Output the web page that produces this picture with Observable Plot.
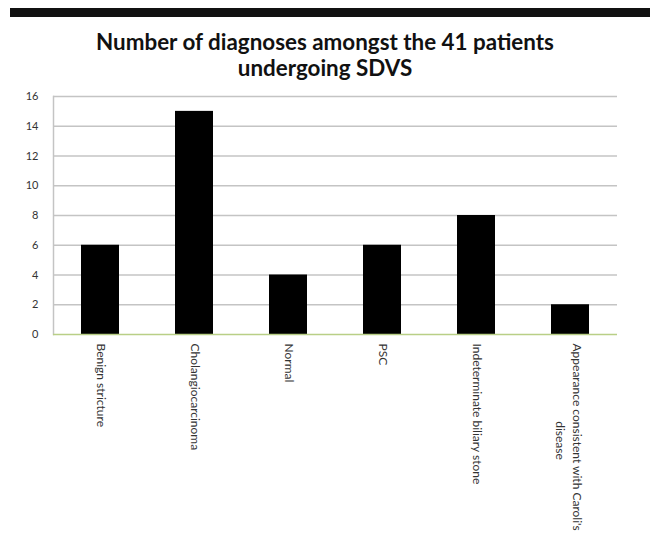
<!DOCTYPE html>
<html>
<head>
<meta charset="utf-8">
<script src="https://cdn.jsdelivr.net/npm/d3@7"></script>
<script src="https://cdn.jsdelivr.net/npm/@observablehq/plot@0.6"></script>
<style>
  html, body { margin: 0; padding: 0; background: #fff; }
  body { width: 650px; height: 541px; position: relative; overflow: hidden; font-family: Lato, "Open Sans", sans-serif; }
  #topbar { position: absolute; left: 10px; right: 0; top: 8px; height: 9px; background: #111; }
  #title { position: absolute; left: 0; width: 650px; top: 29px; text-align: center; font-weight: bold; font-size: 22.4px; line-height: 25.5px; color: #111; }
  #chart { position: absolute; left: 0; top: 86px; }
</style>
</head>
<body>
<div id="topbar"></div>
<div id="title">Number of diagnoses amongst the 41 patients<br>undergoing SDVS</div>
<div id="chart"></div>
<script>
const categories = ["Benign stricture", "Cholangiocarcinoma", "Normal", "PSC", "Indeterminate biliary stone", "Appearance consistent with Caroli's disease"];
const counts = [6, 15, 4, 6, 8, 2];
const labelLines = [["Benign stricture"], ["Cholangiocarcinoma"], ["Normal"], ["PSC"], ["Indeterminate biliary stone"], ["Appearance consistent with Caroli's", "disease"]];
const yTicks = [0, 2, 4, 6, 8, 10, 12, 14, 16];

const data = categories.map((c, i) => ({category: c, count: counts[i]}));
const single = categories.map((c, i) => ({category: c, lines: labelLines[i]})).filter(d => d.lines.length === 1);
const multi = categories.map((c, i) => ({category: c, lines: labelLines[i]})).filter(d => d.lines.length > 1);

const chart = Plot.plot({
  width: 650,
  height: 455,
  marginTop: 10,
  marginBottom: 207,
  marginLeft: 53,
  marginRight: 33,
  style: {fontFamily: "Lato, 'Open Sans', sans-serif", color: "#222", background: "#fff"},
  x: {domain: categories, paddingInner: 0.6, paddingOuter: 0.3, axis: null},
  y: {domain: [0, 16], axis: null},
  marks: [
    Plot.ruleY(yTicks.filter(t => t > 0), {stroke: "#c4c4c4", strokeWidth: 1.5}),
    Plot.frame({anchor: "left", stroke: "#c4c4c4", strokeWidth: 1.5}),
    Plot.barY(data, {x: "category", y: "count", fill: "#000"}),
    Plot.ruleY([0], {stroke: "#b9cf86", strokeWidth: 1.5}),
    Plot.axisY({ticks: yTicks, tickSize: 0, tickPadding: 15, fontSize: 11, fill: "#333", label: null}),
    Plot.text(single, {x: "category", text: d => d.lines[0], frameAnchor: "bottom", rotate: 90, textAnchor: "start", lineAnchor: "middle", dy: 9, fontSize: 12, fill: "#333"}),
    Plot.text(multi, {x: "category", text: d => d.lines[0], frameAnchor: "bottom", rotate: 90, textAnchor: "start", lineAnchor: "middle", dy: 9, dx: 6, fontSize: 12, fill: "#333"}),
    Plot.text(multi, {x: "category", text: d => d.lines[1], frameAnchor: "bottom", rotate: 90, textAnchor: "middle", lineAnchor: "middle", dy: 106, dx: -11, fontSize: 12, fill: "#333"})
  ]
});
document.getElementById("chart").appendChild(chart);
</script>
</body>
</html>
